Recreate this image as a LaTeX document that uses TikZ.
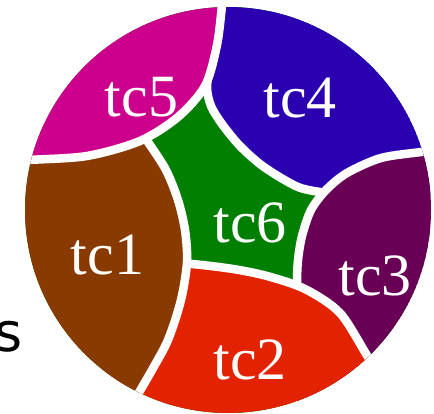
\documentclass[tikz,border=0pt]{standalone}
\usepackage{fontspec}
\setmainfont{Liberation Serif}
\newfontfamily\sansfam{DejaVu Sans}
\definecolor{cfive}{RGB}{204,0,140}
\definecolor{cfour}{RGB}{42,0,176}
\definecolor{cthree}{RGB}{105,0,85}
\definecolor{ctwo}{RGB}{227,35,0}
\definecolor{cone}{RGB}{136,58,0}
\definecolor{csix}{RGB}{0,127,0}
\begin{document}
\begin{tikzpicture}[x=1pt,y=-1pt,
  lbl/.style={text=white,font=\fontsize{60}{60}\selectfont,inner sep=0pt,anchor=base},
  sepline/.style={draw=white,line width=8.5pt}]
\useasboundingbox (0,0) rectangle (434,414);
\coordinate (O) at (228,210);
\begin{scope}
\clip (O) circle[radius=203pt];
\fill[csix] (O) circle[radius=203pt];
% tc4
\fill[cfour] plot[smooth] coordinates {(224,-20) (222,5) (216,40) (210,66) (207,88) (211,106) (222,124) (240,146) (264,167) (298,187) (327,193) (350,196)} -- (450,196) -- (450,-20) -- cycle;
\draw[sepline] plot[smooth] coordinates {(224,-20) (222,5) (216,40) (210,66) (207,88) (211,106) (222,124) (240,146) (264,167) (298,187) (327,193) (350,196)};
% tc3
\fill[cthree] plot[smooth] coordinates {(450,148) (421,152) (381,158) (347,173) (326,190) (311,210) (302,236) (298,260) (297,283) (298,300)} -- (298,440) -- (450,440) -- cycle;
\draw[sepline] plot[smooth] coordinates {(450,148) (421,152) (381,158) (347,173) (326,190) (311,210) (302,236) (298,260) (297,283) (298,300)};
% tc2
\fill[ctwo] plot[smooth] coordinates {(390,390) (368,357) (340,313) (305,289) (267,276) (233,269) (192,264) (170,264)} -- (100,264) -- (100,440) -- (440,440) -- cycle;
\draw[sepline] plot[smooth] coordinates {(390,390) (368,357) (340,313) (305,289) (267,276) (233,269) (192,264) (170,264)};
% tc1
\fill[cone] plot[smooth] coordinates {(125,418) (137,396) (152,370) (168,340) (181,300) (187,262) (185,230) (178,200) (166,170) (148,142) (138,127)} -- (0,127) -- (0,418) -- cycle;
\draw[sepline] plot[smooth] coordinates {(125,418) (137,396) (152,370) (168,340) (181,300) (187,262) (185,230) (178,200) (166,170) (148,142) (138,127)};
% tc5
\fill[cfive] plot[smooth] coordinates {(0,162) (28,160) (87,156) (140,141) (178,117) (205,86) (217,45) (222,5) (224,-20)} -- (0,-20) -- cycle;
\draw[sepline] plot[smooth] coordinates {(0,162) (28,160) (87,156) (140,141) (178,117) (205,86) (217,45) (222,5) (224,-20)};
\end{scope}
\node[lbl] (t5) at (141.5,117) {tc5};
\node[lbl] (t4) at (300,118) {tc4};
\node[lbl] (t6) at (250,243) {tc6};
\node[lbl] (t1) at (107.5,275) {tc1};
\node[lbl] (t3) at (375,295) {tc3};
\node[lbl] (t2) at (250,379) {tc2};
\node[inner sep=0pt,anchor=base east,font=\sansfam\fontsize{54}{54}\selectfont] (s) at (23,352) {s};
\end{tikzpicture}
\end{document}
